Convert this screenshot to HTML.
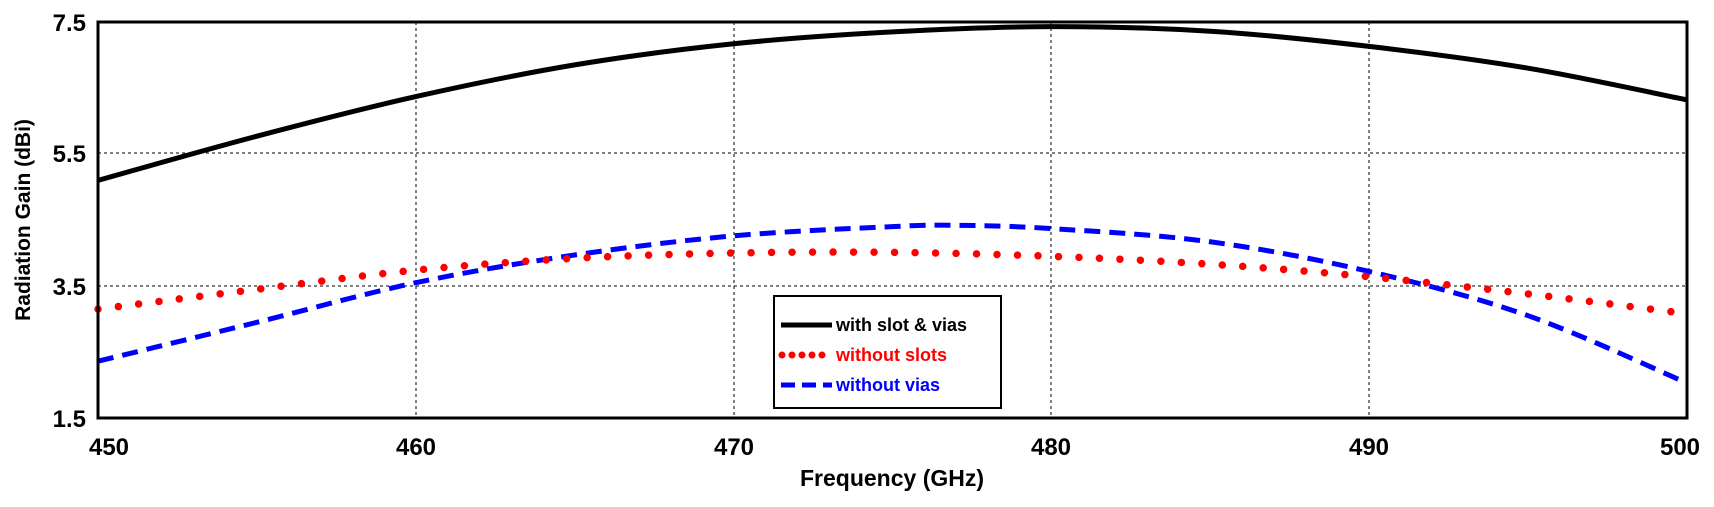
<!DOCTYPE html>
<html><head><meta charset="utf-8"><style>
html,body{margin:0;padding:0;background:#fff;}
svg{display:block;}
text{font-family:"Liberation Sans",sans-serif;font-weight:bold;}
</style></head><body>
<svg id="s" width="1714" height="507" viewBox="0 0 1714 507" xmlns="http://www.w3.org/2000/svg">
<g stroke="#000" stroke-width="1" stroke-dasharray="3,3">
<line x1="98" y1="153" x2="1687" y2="153"/>
<line x1="98" y1="286" x2="1687" y2="286"/>
<line x1="416" y1="22" x2="416" y2="418"/>
<line x1="734" y1="22" x2="734" y2="418"/>
<line x1="1051" y1="22" x2="1051" y2="418"/>
<line x1="1369" y1="22" x2="1369" y2="418"/>
</g>
<g id="curves"></g>
<rect x="98" y="22" width="1589" height="396" fill="none" stroke="#000" stroke-width="3"/>
<g font-size="24" text-anchor="end">
<text x="86" y="31">7.5</text>
<text x="86" y="162">5.5</text>
<text x="86" y="295">3.5</text>
<text x="86" y="427">1.5</text>
</g>
<g font-size="24" text-anchor="middle">
<text x="109" y="455">450</text>
<text x="416" y="455">460</text>
<text x="734" y="455">470</text>
<text x="1051" y="455">480</text>
<text x="1369" y="455">490</text>
<text x="1680" y="455">500</text>
</g>
<text x="892" y="486" font-size="23" text-anchor="middle">Frequency (GHz)</text>
<text transform="translate(30,220) rotate(-90)" font-size="21" text-anchor="middle">Radiation Gain (dBi)</text>
<rect x="774" y="296" width="227" height="112" fill="#fff" stroke="#000" stroke-width="2"/>
<line x1="781" y1="325" x2="832" y2="325" stroke="#000" stroke-width="5"/>
<line x1="782" y1="355" x2="832" y2="355" stroke="#f00" stroke-width="7" stroke-dasharray="0,10" stroke-linecap="round"/>
<line x1="781" y1="385" x2="832" y2="385" stroke="#00f" stroke-width="5" stroke-dasharray="14,7"/>
<g font-size="18">
<text x="836" y="331" fill="#000">with slot &amp; vias</text>
<text x="836" y="361" fill="#f00">without slots</text>
<text x="836" y="391" fill="#00f">without vias</text>
</g>
</svg>
<script>
function X(f){return 98+(f-450)*31.78;}
function Y(v){return 418-(v-1.5)*66;}
function path(pts){
 var P=pts.map(function(p){return [X(p[0]),Y(p[1])];});
 var d="M"+P[0][0]+","+P[0][1];
 for(var i=0;i<P.length-1;i++){
  var p0=P[i-1]||P[i],p1=P[i],p2=P[i+1],p3=P[i+2]||P[i+1];
  var c1=[p1[0]+(p2[0]-p0[0])/6,p1[1]+(p2[1]-p0[1])/6];
  var c2=[p2[0]-(p3[0]-p1[0])/6,p2[1]-(p3[1]-p1[1])/6];
  d+=" C"+c1+" "+c2+" "+p2;
 }
 return d;
}
var black=[[450,5.1],[455,5.77],[460,6.37],[465,6.85],[470,7.17],[475,7.35],[480,7.43],[485,7.36],[490,7.13],[495,6.8],[500,6.32]];
var red=[[450,3.15],[455,3.45],[460,3.74],[465,3.92],[470,4.0],[475,4.01],[480,3.95],[485,3.83],[490,3.64],[495,3.38],[500,3.08]];
var blue=[[450,2.36],[455,2.95],[460,3.55],[465,3.97],[470,4.26],[475,4.4],[477,4.42],[480,4.37],[485,4.17],[490,3.72],[495,3.05],[500,2.03]];
var g=document.getElementById("curves");
function add(pts,attrs){
 var e=document.createElementNS("http://www.w3.org/2000/svg","path");
 e.setAttribute("d",path(pts));e.setAttribute("fill","none");
 for(var k in attrs)e.setAttribute(k,attrs[k]);g.appendChild(e);
}
add(blue,{stroke:"#00f","stroke-width":"5","stroke-dasharray":"16,9"});
add(red,{stroke:"#f00","stroke-width":"7.5","stroke-dasharray":"0,20.5","stroke-linecap":"round"});
add(black,{stroke:"#000","stroke-width":"5"});
</script>
</body></html>
